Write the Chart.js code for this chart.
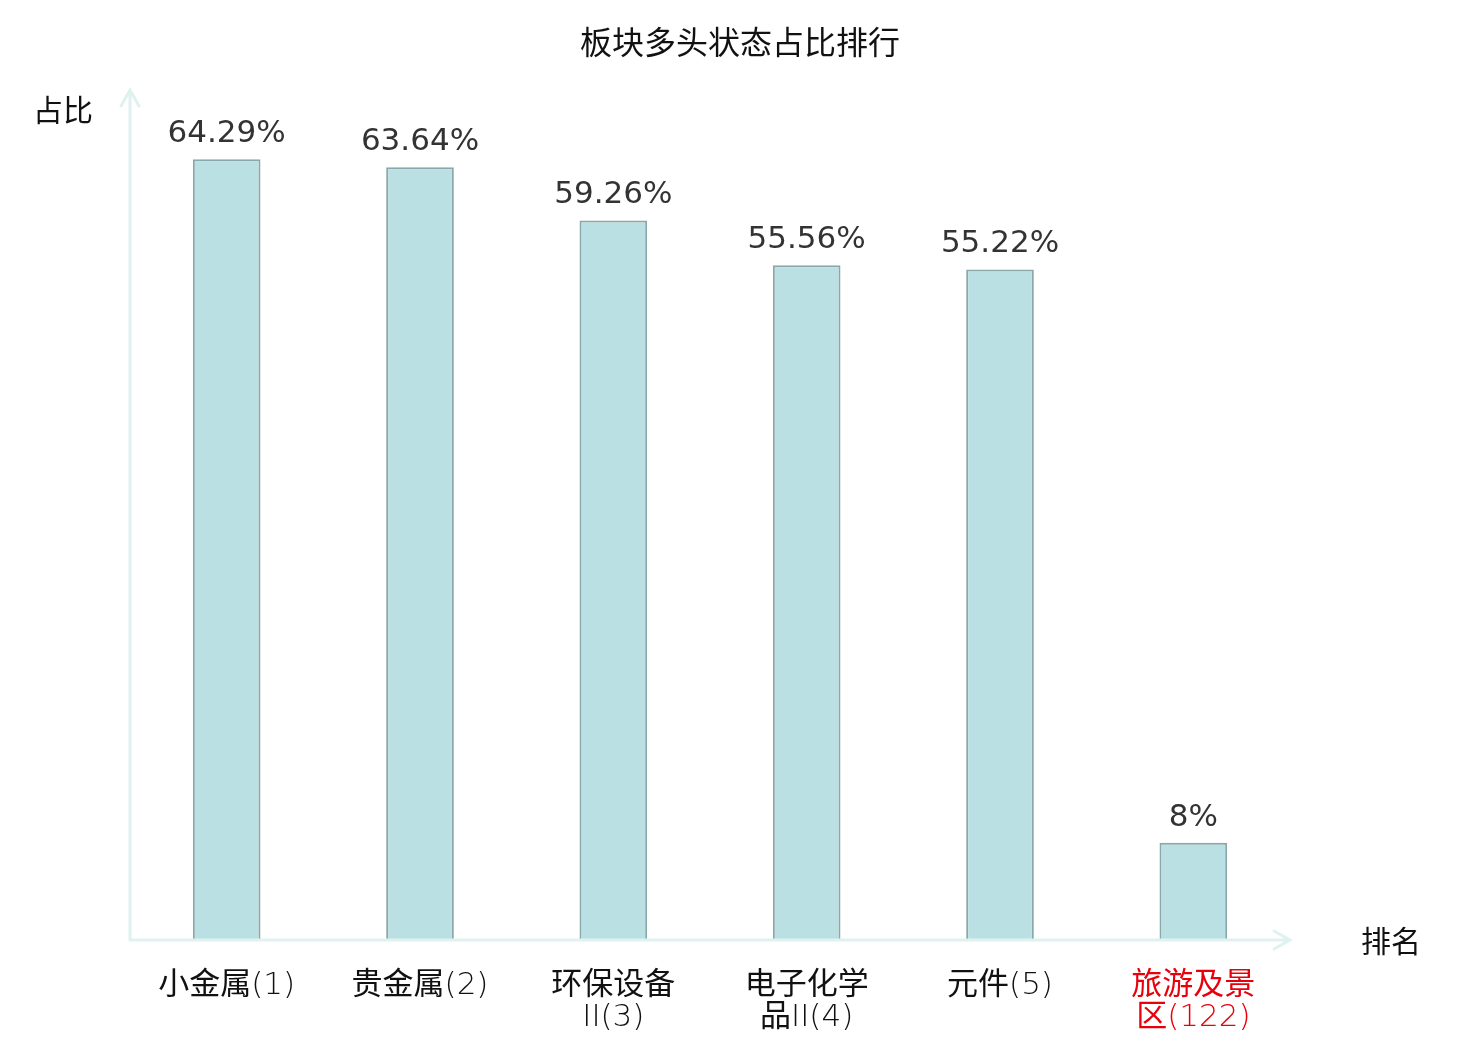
<!DOCTYPE html>
<html>
<head>
<meta charset="utf-8">
<script src="https://cdn.jsdelivr.net/npm/chart.js@4.4.1/dist/chart.umd.min.js"></script>
<style>
  html, body { margin: 0; padding: 0; background: #fff; }
  #wrap { width: 1480px; height: 1040px; position: relative; }
</style>
</head>
<body>
<div id="wrap"><canvas id="rankChart"></canvas></div>
<script>
const sectors = [
  ['小金属(1)'],
  ['贵金属(2)'],
  ['环保设备', 'II(3)'],
  ['电子化学', '品II(4)'],
  ['元件(5)'],
  ['旅游及景', '区(122)'],
];
const ratios = [64.29, 63.64, 59.26, 55.56, 55.22, 8];
const valueLabels = ['64.29%', '63.64%', '59.26%', '55.56%', '55.22%', '8%'];
const labelColors = ['#111', '#111', '#111', '#111', '#111', '#e8000b'];

const CJK = '"Noto Sans CJK SC", "DejaVu Sans", sans-serif';
const TICK_FONT = '"DejaVu Sans Light", "DejaVu Sans ExtraLight", "Noto Sans CJK SC", sans-serif';
const AXIS_COLOR = '#dff2ef';

const decorations = {
  id: 'decorations',
  afterDatasetsDraw(chart) {
    const { ctx, chartArea } = chart;
    const { left, right, top, bottom } = chartArea;

    ctx.save();
    // axes with arrow heads
    ctx.strokeStyle = AXIS_COLOR;
    ctx.lineWidth = 3;
    ctx.lineCap = 'round';
    ctx.beginPath();
    ctx.moveTo(left, bottom);
    ctx.lineTo(right, bottom);
    ctx.moveTo(right - 16, bottom - 9);
    ctx.lineTo(right, bottom);
    ctx.lineTo(right - 16, bottom + 9);
    ctx.moveTo(left, bottom);
    ctx.lineTo(left, top);
    ctx.moveTo(left - 9, top + 16);
    ctx.lineTo(left, top);
    ctx.lineTo(left + 9, top + 16);
    ctx.stroke();

    // value labels
    const meta = chart.getDatasetMeta(0);
    ctx.fillStyle = '#333';
    ctx.font = '31px "DejaVu Sans", sans-serif';
    ctx.textAlign = 'center';
    ctx.textBaseline = 'alphabetic';
    meta.data.forEach((bar, i) => {
      ctx.fillText(valueLabels[i], bar.x, bar.y - 17);
    });

    // title and axis names
    ctx.fillStyle = '#111';
    ctx.font = '32px ' + CJK;
    ctx.textBaseline = 'middle';
    ctx.fillText('板块多头状态占比排行', 740, 42);
    ctx.font = '30px ' + CJK;
    ctx.fillText('占比', 63, 110);
    ctx.fillText('排名', 1391, 941);
    ctx.restore();
  },
};

new Chart(document.getElementById('rankChart'), {
  type: 'bar',
  data: {
    labels: sectors,
    datasets: [
      {
        data: ratios,
        backgroundColor: '#bbe0e3',
        borderColor: '#89a8a9',
        borderWidth: 2,
        categoryPercentage: 1,
        barPercentage: 0.35,
      },
    ],
  },
  options: {
    responsive: true,
    maintainAspectRatio: false,
    animation: false,
    layout: { padding: { left: 130, right: 190, top: 90, bottom: 8 } },
    plugins: {
      legend: { display: false },
      tooltip: { enabled: false },
    },
    scales: {
      y: {
        display: false,
        min: 0,
        max: 70,
      },
      x: {
        grid: { display: false, drawTicks: false },
        border: { display: false },
        afterFit(scale) {
          scale.height = 92;
        },
        ticks: {
          padding: 30,
          color: ctx => labelColors[ctx.index],
          font: { family: TICK_FONT, size: 31, lineHeight: 1.03 },
          maxRotation: 0,
          autoSkip: false,
        },
      },
    },
  },
  plugins: [decorations],
});
</script>
</body>
</html>
